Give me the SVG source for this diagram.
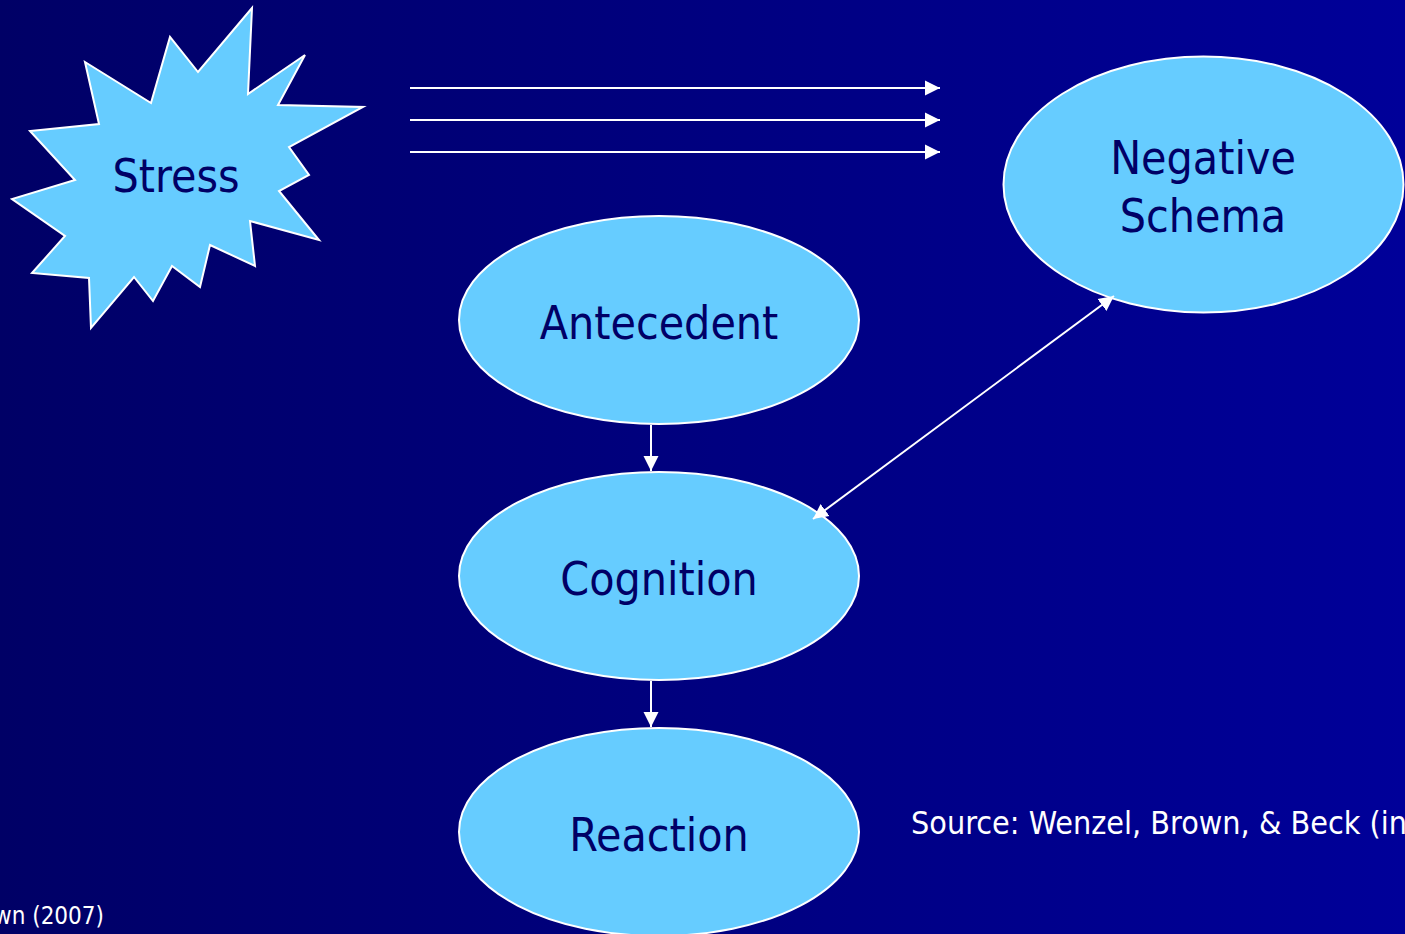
<svg xmlns="http://www.w3.org/2000/svg" width="1405" height="934" viewBox="0 0 1405 934">
<defs>
<linearGradient id="bg" x1="0" y1="0" x2="1" y2="0">
<stop offset="0" stop-color="#000066"/>
<stop offset="1" stop-color="#000099"/>
</linearGradient>
<marker id="ahb" viewBox="0 0 10 10" refX="10" refY="5" markerWidth="15" markerHeight="16" orient="auto-start-reverse" markerUnits="userSpaceOnUse">
<path d="M0,0 L10,5 L0,10 z" fill="#ffffff"/>
</marker>
</defs>
<style>
.node{fill:#66CCFF;stroke:#ffffff;stroke-width:2}
.lbl{font-family:'DejaVu Sans Condensed','DejaVu Sans',sans-serif;font-stretch:condensed;fill:#000066;font-size:46px;text-anchor:middle}
.con{stroke:#ffffff;stroke-width:2;fill:none}
.src{font-family:'DejaVu Sans Condensed','DejaVu Sans',sans-serif;font-stretch:condensed;fill:#ffffff}
</style>
<rect x="0" y="0" width="1405" height="934" fill="url(#bg)"/>
<g id="stress">
<polygon class="node" points="252,8 248,94 305,55 278,105 363,107 289,147 309,175 279,191 319,240 250,221 255,266 210,245 200,287 172,266 153,301 134,277 91,328 89,278 32,273 65,236 12,199 75,180 30,131 99,124 85,62 151,103 170,37 198,72"/>
<text class="lbl" x="176" y="192">Stress</text>
</g>
<g id="negative-schema">
<ellipse class="node" cx="1203.5" cy="184.5" rx="200" ry="128"/>
<text class="lbl" x="1203" y="174">Negative</text>
<text class="lbl" x="1203" y="232">Schema</text>
</g>
<g id="antecedent">
<ellipse class="node" cx="659" cy="320" rx="200" ry="104"/>
<text class="lbl" x="659" y="339">Antecedent</text>
</g>
<g id="cognition">
<ellipse class="node" cx="659" cy="576" rx="200" ry="104"/>
<text class="lbl" x="659" y="595">Cognition</text>
</g>
<g id="reaction">
<ellipse class="node" cx="659" cy="832" rx="200" ry="104"/>
<text class="lbl" x="659" y="851">Reaction</text>
</g>
<g id="connectors">
<line class="con" x1="410" y1="88" x2="940" y2="88" marker-end="url(#ahb)"/>
<line class="con" x1="410" y1="120" x2="940" y2="120" marker-end="url(#ahb)"/>
<line class="con" x1="410" y1="152" x2="940" y2="152" marker-end="url(#ahb)"/>
<line class="con" x1="651" y1="425" x2="651" y2="471" marker-end="url(#ahb)"/>
<line class="con" x1="651" y1="681" x2="651" y2="727" marker-end="url(#ahb)"/>
<line class="con" x1="813" y1="519" x2="1114" y2="296" marker-start="url(#ahb)" marker-end="url(#ahb)"/>
</g>
<g id="notes">
<text class="src" x="911" y="834" font-size="32">Source: Wenzel, Brown, &amp; Beck (in</text>
<text class="src" x="104" y="924" font-size="24" text-anchor="end">wn (2007)</text>
</g>
</svg>
